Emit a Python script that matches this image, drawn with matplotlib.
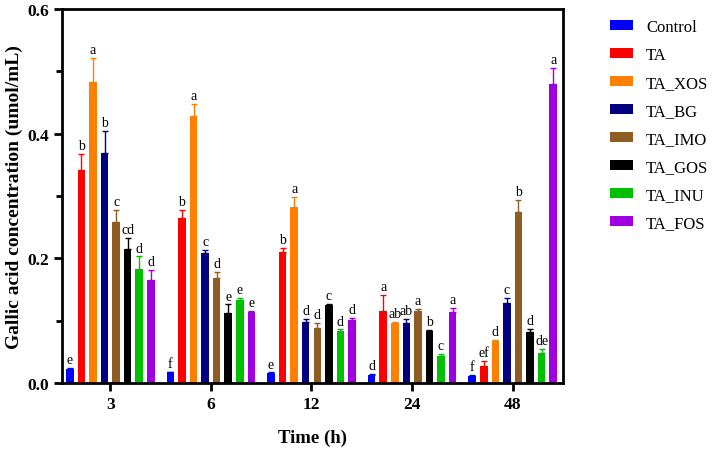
import numpy as np
from matplotlib import pyplot as plt

plt.rcParams['font.family'] = ['Liberation Serif', 'DejaVu Serif']

times = ['3', '6', '12', '24', '48']
groups = ['Control', 'TA', 'TA_XOS', 'TA_BG', 'TA_IMO', 'TA_GOS', 'TA_INU', 'TA_FOS']
colors = ['#0000FF', '#FF0000', '#FF8000', '#000080', '#8E5B22', '#000000', '#00C000', '#A000E0']

# mean values, one list per group (3, 6, 12, 24, 48 h)
control = [0.0225, 0.017, 0.016, 0.0134, 0.0112]
ta = [0.342, 0.265, 0.210, 0.1155, 0.028]
ta_xos = [0.483, 0.428, 0.283, 0.097, 0.068]
ta_bg = [0.369, 0.209, 0.098, 0.096, 0.128]
ta_imo = [0.259, 0.168, 0.089, 0.1155, 0.275]
ta_gos = [0.215, 0.113, 0.125, 0.083, 0.082]
ta_inu = [0.183, 0.133, 0.084, 0.043, 0.048]
ta_fos = [0.166, 0.114, 0.101, 0.114, 0.479]

# upper error (SD)
control_err = [0.002, 0.001, 0.001, 0.001, 0.0015]
ta_err = [0.026, 0.012, 0.007, 0.026, 0.007]
ta_xos_err = [0.038, 0.020, 0.015, 0.001, 0.001]
ta_bg_err = [0.035, 0.005, 0.005, 0.007, 0.008]
ta_imo_err = [0.019, 0.010, 0.008, 0.003, 0.018]
ta_gos_err = [0.018, 0.013, 0.002, 0.002, 0.005]
ta_inu_err = [0.020, 0.004, 0.002, 0.0035, 0.0065]
ta_fos_err = [0.015, 0.002, 0.004, 0.006, 0.026]

# significance letters
control_lab = ['e', 'f', 'e', 'd', 'f']
ta_lab = ['b', 'b', 'b', 'a', 'ef']
ta_xos_lab = ['a', 'a', 'a', 'ab', 'd']
ta_bg_lab = ['b', 'c', 'd', 'ab', 'c']
ta_imo_lab = ['c', 'd', 'd', 'a', 'b']
ta_gos_lab = ['cd', 'e', 'c', 'b', 'd']
ta_inu_lab = ['d', 'e', 'd', 'c', 'de']
ta_fos_lab = ['d', 'e', 'd', 'a', 'a']

means = [control, ta, ta_xos, ta_bg, ta_imo, ta_gos, ta_inu, ta_fos]
errs = [control_err, ta_err, ta_xos_err, ta_bg_err, ta_imo_err, ta_gos_err, ta_inu_err, ta_fos_err]
labs = [control_lab, ta_lab, ta_xos_lab, ta_bg_lab, ta_imo_lab, ta_gos_lab, ta_inu_lab, ta_fos_lab]

fig = plt.figure(figsize=(7.14, 4.52), dpi=100)
ax = fig.add_axes([62/714, 1-384/452, 501/714, 374/452])

x = np.arange(len(times))
pitch = 0.115
width = 0.075
for i, g in enumerate(groups):
    xs = x + (i - 3.5) * pitch
    yerr = [np.zeros(len(times)), errs[i]]
    ax.bar(xs, means[i], width, color=colors[i], label=g, yerr=yerr,
           error_kw=dict(ecolor=colors[i], elinewidth=1, capsize=2, capthick=1))
    for xx, m, e, l in zip(xs, means[i], errs[i], labs[i]):
        ax.text(xx, m + e + 0.003, l, ha='center', va='bottom', fontsize=10)

ax.set_xlim(-0.48, 4.5)
ax.set_ylim(0, 0.6)
ax.set_yticks([0, 0.2, 0.4, 0.6])
ax.set_yticklabels(['0.0', '0.2', '0.4', '0.6'])
ax.set_yticks([0.1, 0.3, 0.5], minor=True)
ax.set_xticks(x)
ax.set_xticklabels(times)
for s in ax.spines.values():
    s.set_linewidth(2)
ax.tick_params(axis='both', which='major', width=2, length=6, labelsize=12.5)
ax.tick_params(axis='y', which='minor', width=2, length=4)
for t in ax.get_xticklabels() + ax.get_yticklabels():
    t.set_fontweight('bold')
ax.set_xlabel('Time (h)', fontsize=13.5, fontweight='bold', labelpad=12)
ax.set_ylabel('Gallic acid concentration (umol/mL)', fontsize=14, fontweight='bold', labelpad=3)

fig.legend(*ax.get_legend_handles_labels(), loc='upper left', bbox_to_anchor=(610/714, 1-20/452),
           frameon=False, fontsize=12, borderpad=0, borderaxespad=0,
           handlelength=1.38, handleheight=0.6, labelspacing=0.72, handletextpad=0.78)

fig.savefig('out.png', dpi=100)
